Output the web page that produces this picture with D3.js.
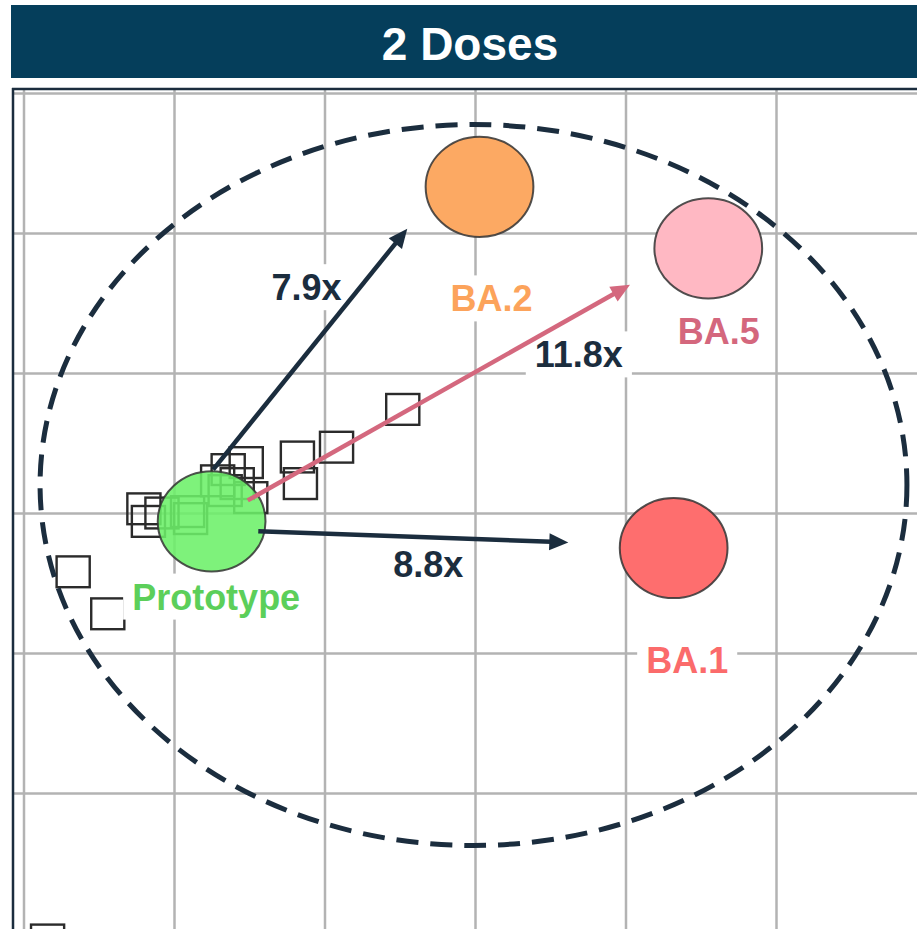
<!DOCTYPE html>
<html>
<head>
<meta charset="utf-8">
<script src="https://cdn.jsdelivr.net/npm/d3@7"></script>
<style>
  body { margin: 0; background: #fff; }
  svg { display: block; font-family: "Liberation Sans", Arial, sans-serif; }
</style>
</head>
<body>
<div class="chart"></div>
<script>
var width = 917;
var height = 929;
var plot = { left: 12, top: 89 };

// map coordinates in antigenic units (one grid square = 1 unit)
var antigens = ['Prototype', 'BA.1', 'BA.2', 'BA.5'];
var antigenX = [1.25, 4.32, 3.03, 4.55];
var antigenY = [3.06, 3.25, 0.67, 1.11];
var labelX = [1.28, 4.41, 3.11, 4.62];
var labelY = [3.69, 4.14, 1.56, 1.79];

// sera (open squares)
var seraX = [0.33, 0.56, 0.16, 0.80, 0.83, 0.92, 1.09, 1.11, 1.29, 1.36, 1.48, 1.42, 1.51, 1.34, 1.82, 1.84, 2.08, 2.52];
var seraY = [3.42, 3.72, 6.05, 2.97, 3.06, 3.00, 2.99, 3.04, 2.77, 2.69, 2.64, 2.79, 2.89, 2.84, 2.60, 2.79, 2.53, 2.26];

// fold drops from prototype
var foldLabels = ['8.8x', '7.9x', '11.8x'];
var arrowFromX = [1.56, 1.26, 1.49];
var arrowFromY = [3.13, 2.69, 2.91];
var arrowToX = [3.62, 2.55, 4.03];
var arrowToY = [3.21, 0.97, 1.37];
var foldLabelX = [2.69, 1.88, 3.69];
var foldLabelY = [3.46, 1.48, 1.96];

var gridTicks = [0, 1, 2, 3, 4, 5, 6];

var navy = '#1b2d3e';
var antigenFill = ['#6cf069', '#fe6e6e', '#fca963', '#ffb8c3'];
var antigenText = ['#5ccf5a', '#fb6b6b', '#fca35b', '#d4677d'];
var arrowColor = [navy, navy, '#d4687e'];

var svg = d3.select('.chart')
  .append('svg')
    .attr('width', width)
    .attr('height', height);

// header
svg.append('rect')
  .attr('x', 11).attr('y', 5)
  .attr('width', width - 11).attr('height', 73)
  .attr('fill', '#053e5b');
svg.append('text')
  .attr('x', 470).attr('y', 60)
  .attr('text-anchor', 'middle')
  .attr('fill', '#fff')
  .style('font-size', '46px')
  .style('font-weight', 'bold')
  .text('2 Doses');

var x = d3.scaleLinear().domain([0, 6]).range([23.5, 926.5]);
var y = d3.scaleLinear().domain([0, 6]).range([93, 933]);

svg.append('clipPath').attr('id', 'clip')
  .append('rect')
    .attr('x', plot.left).attr('y', plot.top)
    .attr('width', width - plot.left).attr('height', height - plot.top);

var g = svg.append('g').attr('clip-path', 'url(#clip)');

// grid
var xGrid = d3.axisBottom(x).tickValues(gridTicks).tickSize(-(height - plot.top)).tickFormat('');
var yGrid = d3.axisLeft(y).tickValues(gridTicks).tickSize(-(width - plot.left)).tickFormat('');

g.append('g')
    .attr('transform', `translate(0, ${height})`)
  .call(xGrid);
g.append('g')
    .attr('transform', `translate(${plot.left}, 0)`)
  .call(yGrid);
g.selectAll('.domain').remove();
g.selectAll('.tick line')
  .attr('stroke', '#b3b3b3')
  .attr('stroke-width', 2.5);

// frame (left and top only, chart is cropped)
svg.append('line')
  .attr('x1', plot.left + 1).attr('x2', plot.left + 1)
  .attr('y1', plot.top - 1).attr('y2', height)
  .attr('stroke', navy).attr('stroke-width', 2.5);
svg.append('line')
  .attr('x1', plot.left).attr('x2', width)
  .attr('y1', plot.top).attr('y2', plot.top)
  .attr('stroke', navy).attr('stroke-width', 2.5);

// sera squares
var side = 0.22;
g.selectAll('rect.serum')
  .data(d3.range(seraX.length))
  .enter()
  .append('rect')
    .attr('class', 'serum')
    .attr('x', i => x(seraX[i] - side / 2))
    .attr('y', i => y(seraY[i] - side / 2))
    .attr('width', x(side) - x(0))
    .attr('height', y(side) - y(0))
    .attr('fill', 'none')
    .attr('stroke', '#2b2b2b')
    .attr('stroke-width', 2.4);

// antigen circles
var r = 0.358;
g.selectAll('ellipse.antigen')
  .data(d3.range(antigens.length))
  .enter()
  .append('ellipse')
    .attr('class', 'antigen')
    .attr('cx', i => x(antigenX[i]))
    .attr('cy', i => y(antigenY[i]))
    .attr('rx', x(r) - x(0))
    .attr('ry', y(r) - y(0))
    .attr('fill', i => antigenFill[i])
    .attr('fill-opacity', i => i === 0 ? 0.88 : 1)
    .attr('stroke', '#333')
    .attr('stroke-opacity', 0.85)
    .attr('stroke-width', 2);

// dashed envelope
g.append('ellipse')
  .attr('cx', x(2.99))
  .attr('cy', y(2.80))
  .attr('rx', x(2.88) - x(0))
  .attr('ry', y(2.575) - y(0))
  .attr('fill', 'none')
  .attr('stroke', navy)
  .attr('stroke-width', 5)
  .attr('stroke-dasharray', '22 12');

// labels with white boxes
function boxedLabel(tx, ty, str, color) {
  var lg = g.append('g');
  var t = lg.append('text')
    .attr('x', tx).attr('y', ty)
    .attr('text-anchor', 'middle')
    .attr('fill', color)
    .style('font-size', '36px')
    .style('font-weight', 'bold')
    .text(str);
  var b = t.node().getBBox();
  lg.insert('rect', 'text')
    .attr('x', b.x - 9).attr('y', ty - 36)
    .attr('width', b.width + 18).attr('height', 46)
    .attr('fill', '#fff');
}

antigens.forEach(function (a, i) {
  boxedLabel(x(labelX[i]), y(labelY[i]), a, antigenText[i]);
});
foldLabels.forEach(function (lab, i) {
  boxedLabel(x(foldLabelX[i]), y(foldLabelY[i]), lab, navy);
});

// arrows
var defs = svg.append('defs');
arrowColor.forEach(function (c, i) {
  defs.append('marker')
      .attr('id', 'head' + i)
      .attr('markerUnits', 'userSpaceOnUse')
      .attr('viewBox', '-20 -10 22 20')
      .attr('refX', 0).attr('refY', 0)
      .attr('markerWidth', 22).attr('markerHeight', 20)
      .attr('orient', 'auto')
    .append('path')
      .attr('d', 'M0,0 L-19,-8.5 L-19,8.5 Z')
      .attr('fill', c);
});

foldLabels.forEach(function (lab, i) {
  var x1 = x(arrowFromX[i]), y1 = y(arrowFromY[i]);
  var x2 = x(arrowToX[i]), y2 = y(arrowToY[i]);
  var len = Math.hypot(x2 - x1, y2 - y1);
  var cut = 10;
  g.append('line')
    .attr('x1', x1).attr('y1', y1)
    .attr('x2', x2 - (x2 - x1) * cut / len)
    .attr('y2', y2 - (y2 - y1) * cut / len)
    .attr('stroke', arrowColor[i])
    .attr('stroke-width', 4.5);
  g.append('path')
    .attr('d', `M${x2 - (x2 - x1) * cut / len},${y2 - (y2 - y1) * cut / len}L${x2},${y2}`)
    .attr('stroke', 'none')
    .attr('marker-end', `url(#head${i})`);
});
</script>
</body>
</html>
